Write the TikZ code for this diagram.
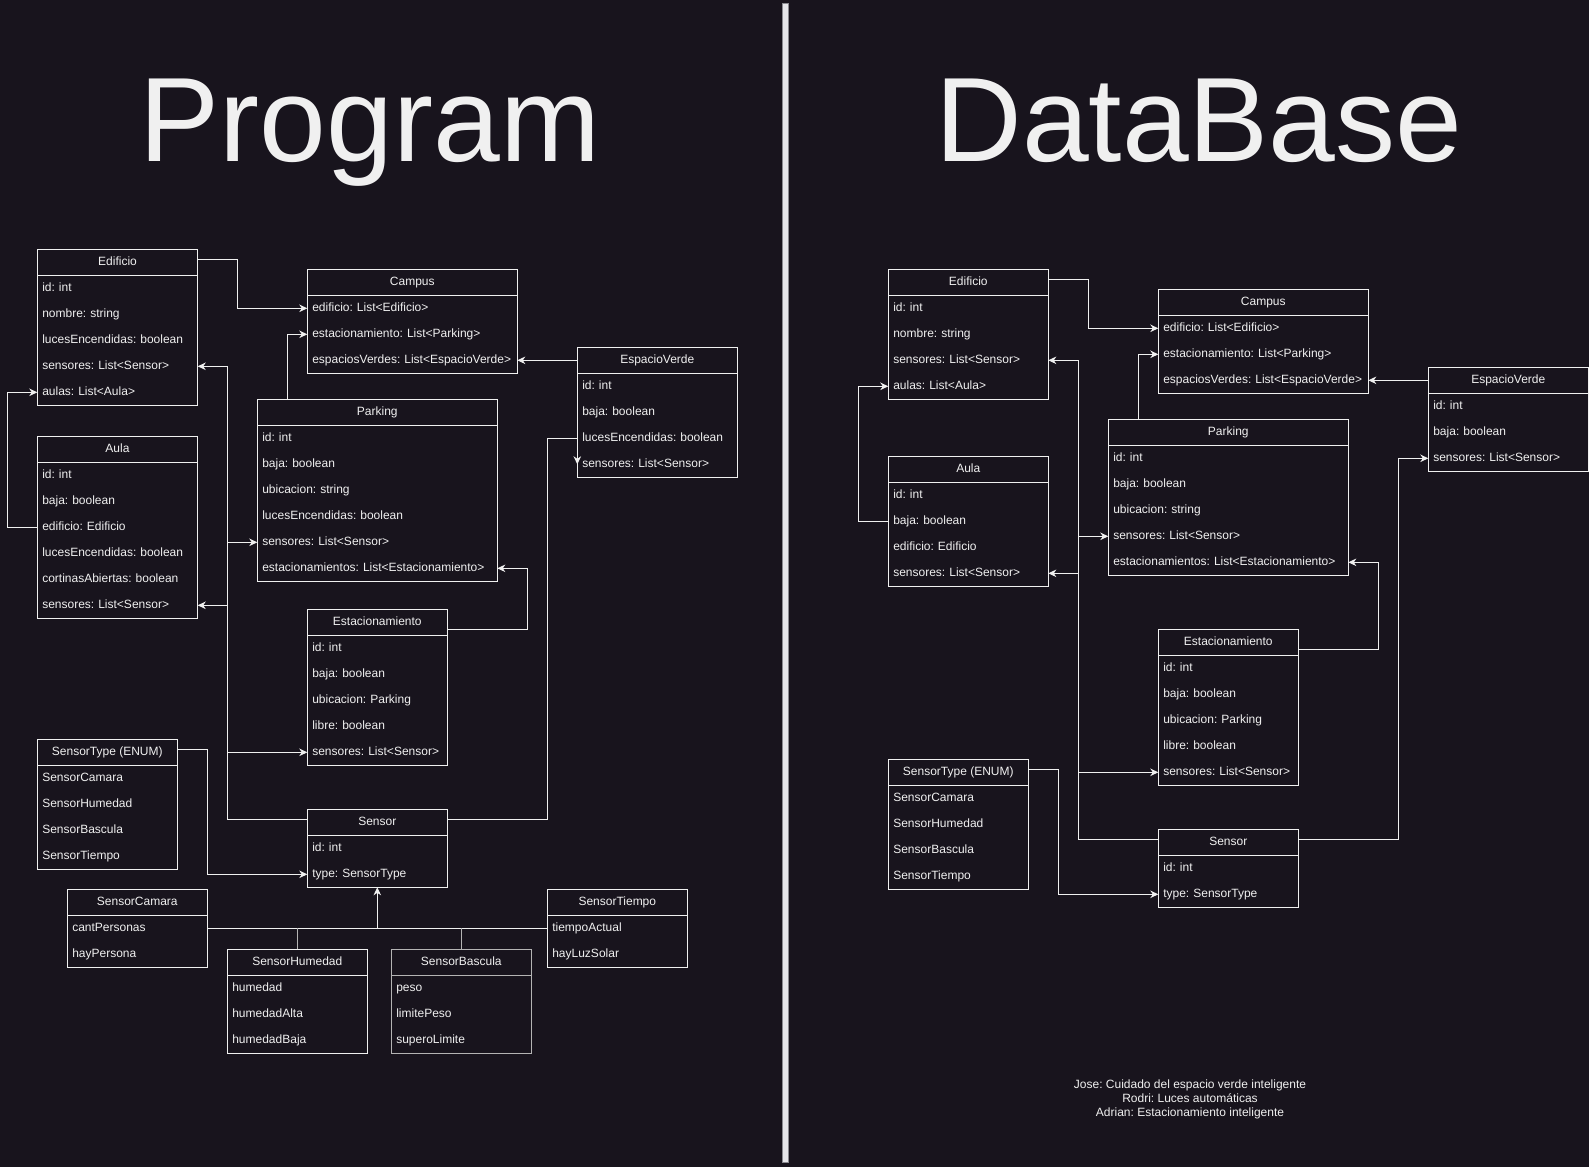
\documentclass[tikz,border=0pt]{standalone}
\usepackage{fontspec}
\setmainfont{Liberation Sans}
\frenchspacing
\usetikzlibrary{arrows.meta,calc}
\definecolor{bg}{HTML}{18141D}
\definecolor{fg}{HTML}{F0F0F0}
\definecolor{sepfill}{HTML}{E6E6EA}
\definecolor{sepline}{HTML}{8A8A90}
\definecolor{grayln}{HTML}{B4B4B4}
\tikzset{
  classbox/.style={anchor=north west, fill=bg, line width=1pt, inner sep=0pt, outer sep=0pt},
  classhead/.style={anchor=north west, fill=bg, line width=1pt, minimum height=26pt, inner sep=0pt, outer sep=0pt,
    text=fg, font=\fontsize{12}{14}\selectfont\frenchspacing, text height=9pt, text depth=3pt},
  classrow/.style={anchor=north west, minimum height=26pt, inner xsep=5pt, inner ysep=0pt, outer sep=0pt,
    align=left, text=fg, font=\fontsize{12}{14}\selectfont\frenchspacing, text height=9pt, text depth=3pt},
  arr/.style={draw=fg, line width=1pt, -{Stealth[length=8pt,width=7.5pt,inset=2.5pt]}},
  ln/.style={draw=fg, line width=1pt},
  lngray/.style={draw=grayln, line width=1pt},
  title/.style={font=\fontsize{120}{140}\selectfont, text=fg, anchor=base, inner sep=0pt},
}
% #1 border colour, #2 name, #3 x, #4 top y, #5 width, #6 title, #7 rows, #8 number of rows
\newcommand\umlclass[8][fg]{%
  \pgfmathsetmacro\umltw{#5-10}%
  \node[classbox, draw=#1, minimum width=#5pt, minimum height={26pt+26pt*#8}] (#2) at (#3,#4) {};
  \node[classhead, draw=#1, minimum width=#5pt] (#2-h) at (#3,#4) {#6};
  \foreach \txt [count=\i] in {#7} {\node[classrow, text width=\umltw pt] (#2-\i) at (#3,{#4+26*\i}) {\mbox{\txt}};}
}
\begin{document}
\begin{tikzpicture}[x=1pt,y=-1pt]
\fill[bg] (0,0) rectangle (1589,1167);
\useasboundingbox (0,0) rectangle (1589,1167);

% separator
\draw[draw=sepline, fill=sepfill, line width=0.8pt] (782.3,3.3) rectangle (788.7,1162);

% titles
\node[title] (tProgram) at (370,161.7) {Program};
\node[title] (tDataBase) at (1199,161.7) {DataBase};

% ---------------- Program ----------------
\umlclass{edL}{37.3}{249.3}{160.4}{Edificio}{id: int,nombre: string,lucesEncendidas: boolean,sensores: List<Sensor>,aulas: List<Aula>}{5}
\umlclass{auL}{37.3}{436.3}{160.4}{Aula}{id: int,baja: boolean,edificio: Edificio,lucesEncendidas: boolean,cortinasAbiertas: boolean,sensores: List<Sensor>}{6}
\umlclass{caL}{307.3}{269.3}{210}{Campus}{edificio: List<Edificio>,estacionamiento: List<Parking>,espaciosVerdes: List<EspacioVerde>}{3}
\umlclass{evL}{577.3}{347.3}{160}{EspacioVerde}{id: int,baja: boolean,lucesEncendidas: boolean,sensores: List<Sensor>}{4}
\umlclass{paL}{257.3}{399.3}{240}{Parking}{id: int,baja: boolean,ubicacion: string,lucesEncendidas: boolean,sensores: List<Sensor>,estacionamientos: List<Estacionamiento>}{6}
\umlclass{esL}{307.3}{609.3}{140}{Estacionamiento}{id: int,baja: boolean,ubicacion: Parking,libre: boolean,sensores: List<Sensor>}{5}
\umlclass{stL}{37.3}{739.3}{140}{SensorType (ENUM)}{SensorCamara,SensorHumedad,SensorBascula,SensorTiempo}{4}
\umlclass{seL}{307.3}{809.3}{140}{Sensor}{id: int,type: SensorType}{2}
\umlclass{scL}{67.3}{889.3}{140}{SensorCamara}{cantPersonas,hayPersona}{2}
\umlclass{stiL}{547.3}{889.3}{140}{SensorTiempo}{tiempoActual,hayLuzSolar}{2}
\umlclass{shL}{227.3}{949.3}{140}{SensorHumedad}{humedad,humedadAlta,humedadBaja}{3}
\umlclass[grayln]{sbL}{391.3}{949.3}{140}{SensorBascula}{peso,limitePeso,superoLimite}{3}

\draw[arr] ([yshift=3pt]edL-h.east) -- ++(40,0) |- (caL-1.west);
\draw[arr] ([xshift=30pt]paL.north west) |- (caL-2.west);
\draw[arr] (evL-h.west) -- (evL-h.west -| caL-3.east);
\draw[arr] (auL-3.west) -- ++(-30,0) |- (edL-5.west);
\draw[arr] ([yshift=3pt]seL-h.west) -- ++(-80,0) |- (edL-4.east);
\draw[arr] ([yshift=3pt]seL-h.west) -- ++(-80,0) |- (paL-5.west);
\draw[arr] ([yshift=3pt]seL-h.west) -- ++(-80,0) |- (auL-6.east);
\draw[arr] ([yshift=3pt]seL-h.west) -- ++(-80,0) |- (esL-5.west);
\draw[arr] ([yshift=3pt]seL-h.east) -- ++(100,0) |- (evL-3.west) -- (evL-4.west);
\draw[arr] ([yshift=-7pt]esL-h.east) -- ++(80,0) |- (paL-6.east);
\draw[arr] ([yshift=3pt]stL-h.east) -- ++(30,0) |- (seL-2.west);
\draw[ln] (scL-1.east) -- (stiL-1.west);
\draw[lngray] (shL.north) -- (shL.north |- scL-1.east);
\draw[lngray] (sbL.north) -- (sbL.north |- scL-1.east);
\draw[arr] (scL-1.east -| seL.south) -- (seL.south);

% ---------------- DataBase ----------------
\umlclass{edR}{888.3}{269.3}{160}{Edificio}{id: int,nombre: string,sensores: List<Sensor>,aulas: List<Aula>}{4}
\umlclass{auR}{888.3}{456.3}{160}{Aula}{id: int,baja: boolean,edificio: Edificio,sensores: List<Sensor>}{4}
\umlclass{caR}{1158.3}{289.3}{210}{Campus}{edificio: List<Edificio>,estacionamiento: List<Parking>,espaciosVerdes: List<EspacioVerde>}{3}
\umlclass{evR}{1428.3}{367.3}{160}{EspacioVerde}{id: int,baja: boolean,sensores: List<Sensor>}{3}
\umlclass{paR}{1108.3}{419.3}{240}{Parking}{id: int,baja: boolean,ubicacion: string,sensores: List<Sensor>,estacionamientos: List<Estacionamiento>}{5}
\umlclass{esR}{1158.3}{629.3}{140}{Estacionamiento}{id: int,baja: boolean,ubicacion: Parking,libre: boolean,sensores: List<Sensor>}{5}
\umlclass{stR}{888.3}{759.3}{140}{SensorType (ENUM)}{SensorCamara,SensorHumedad,SensorBascula,SensorTiempo}{4}
\umlclass{seR}{1158.3}{829.3}{140}{Sensor}{id: int,type: SensorType}{2}

\draw[arr] ([yshift=3pt]edR-h.east) -- ++(40,0) |- (caR-1.west);
\draw[arr] ([xshift=30pt]paR.north west) |- (caR-2.west);
\draw[arr] (evR-h.west) -- (evR-h.west -| caR-3.east);
\draw[arr] (auR-2.west) -- ++(-30,0) |- (edR-4.west);
\draw[arr] ([yshift=3pt]seR-h.west) -- ++(-80,0) |- (edR-3.east);
\draw[arr] ([yshift=3pt]seR-h.west) -- ++(-80,0) |- (paR-4.west);
\draw[arr] ([yshift=3pt]seR-h.west) -- ++(-80,0) |- (auR-4.east);
\draw[arr] ([yshift=3pt]seR-h.west) -- ++(-80,0) |- (esR-5.west);
\draw[arr] ([yshift=3pt]seR-h.east) -- ++(100,0) |- (evR-3.west);
\draw[arr] ([yshift=-7pt]esR-h.east) -- ++(80,0) |- (paR-5.east);
\draw[arr] ([yshift=3pt]stR-h.east) -- ++(30,0) |- (seR-2.west);

% notes
\node[font=\fontsize{12}{14}\selectfont\frenchspacing, text=fg, align=center, inner sep=0pt] (notes) at (1190,1099)
  {Jose: Cuidado del espacio verde inteligente\\Rodri: Luces automáticas\\Adrian: Estacionamiento inteligente};
\end{tikzpicture}
\end{document}
